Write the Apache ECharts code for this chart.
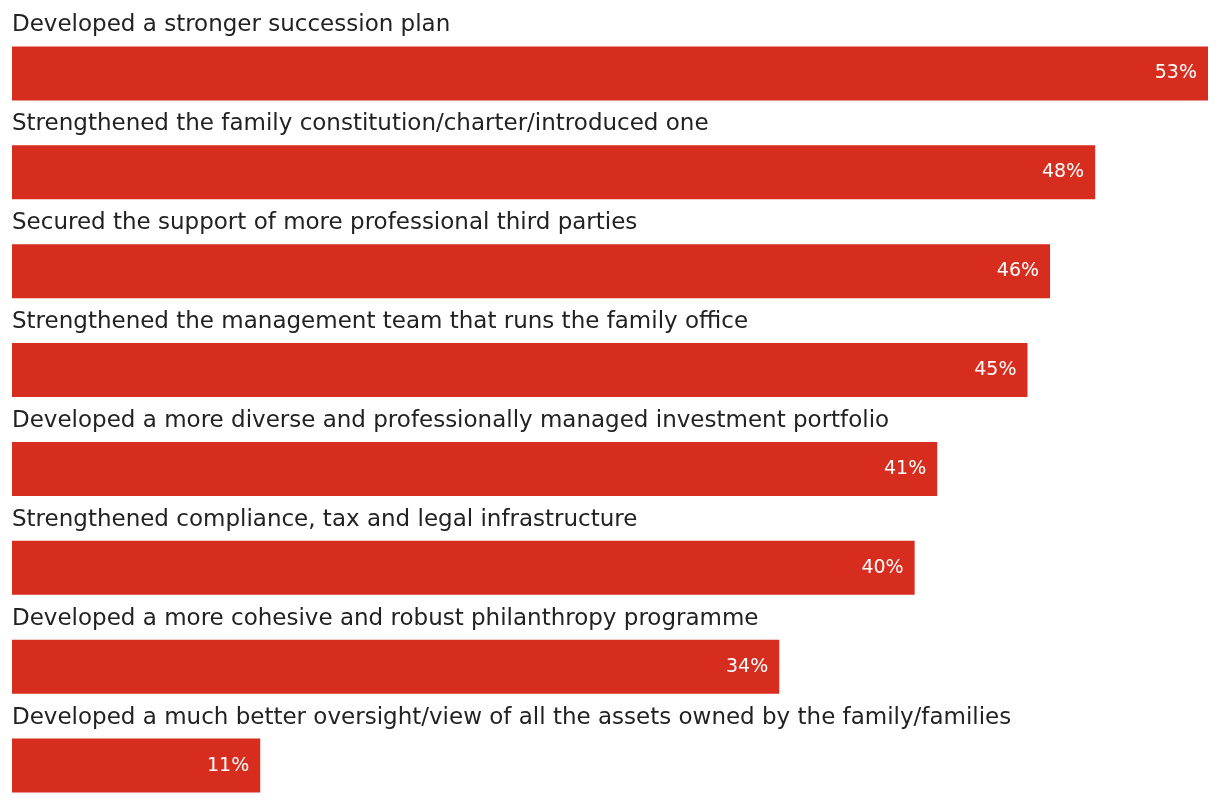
<!DOCTYPE html>
<html>
<head>
<meta charset="utf-8">
<script src="https://cdn.jsdelivr.net/npm/echarts@6/dist/echarts.min.js"></script>
<style>
html,body{margin:0;padding:0;background:#fff;overflow:hidden;}
#chart{width:1220px;height:816px;}
</style>
</head>
<body>
<div id="chart"></div>
<script>
const categories = [
  "Developed a stronger succession plan",
  "Strengthened the family constitution/charter/introduced one",
  "Secured the support of more professional third parties",
  "Strengthened the management team that runs the family office",
  "Developed a more diverse and professionally managed investment portfolio",
  "Strengthened compliance, tax and legal infrastructure",
  "Developed a more cohesive and robust philanthropy programme",
  "Developed a much better oversight/view of all the assets owned by the family/families"
];
const values = [53, 48, 46, 45, 41, 40, 34, 11];

const chart = echarts.init(document.getElementById('chart'), null, {renderer: 'canvas'});
chart.setOption({
  animation: false,
  backgroundColor: '#ffffff',
  grid: {left: 12, right: 12, top: 24, bottom: 1, containLabel: false},
  xAxis: {type: 'value', min: 0, max: 'dataMax', show: false},
  yAxis: {
    type: 'category', data: categories, inverse: true,
    axisLine: {show: false}, axisTick: {show: false}, axisLabel: {show: false}, splitLine: {show: false}
  },
  series: [
    {
      type: 'bar', data: values, barWidth: 54, silent: true,
      itemStyle: {color: '#d72d1e'},
      label: {
        show: true, position: 'insideRight', distance: 11,
        formatter: '{c}%', color: '#ffffff', fontSize: 19, fontFamily: 'DejaVu Sans'
      }
    },
    {
      type: 'bar', data: values, barWidth: 54, barGap: '-100%', silent: true,
      itemStyle: {color: 'rgba(0,0,0,0)'},
      label: {
        show: true, position: [0, -21], align: 'left', verticalAlign: 'middle',
        formatter: '{b}', color: '#222222', fontSize: 23, fontFamily: 'DejaVu Sans'
      }
    }
  ]
});
</script>
</body>
</html>
